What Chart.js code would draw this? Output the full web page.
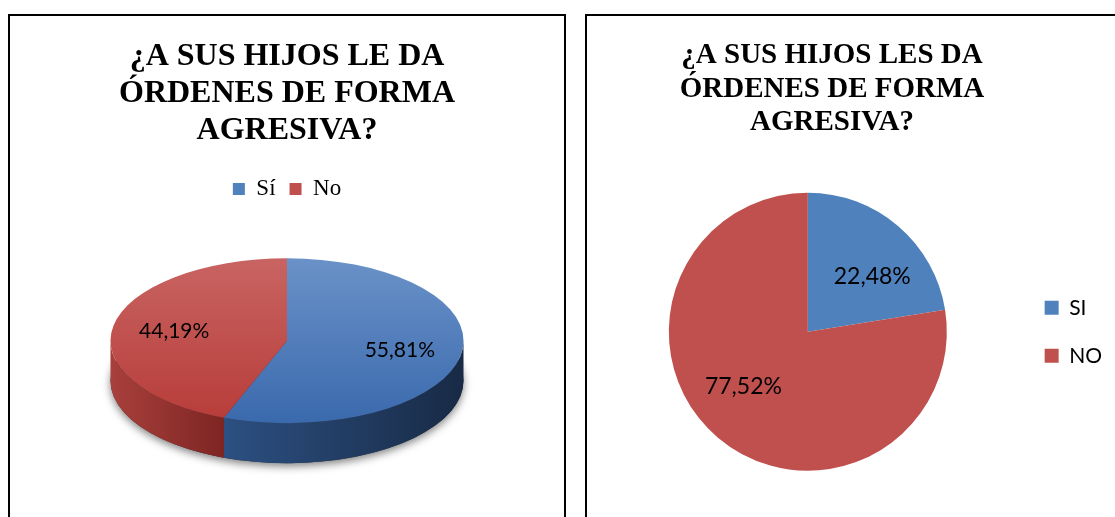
<!DOCTYPE html>
<html>
<head>
<meta charset="utf-8">
<script src="https://cdn.jsdelivr.net/npm/chart.js@4.4.0/dist/chart.umd.min.js"></script>
<style>
  html, body { margin: 0; padding: 0; background: #fff; }
  body { width: 1115px; height: 517px; overflow: hidden; position: relative; }
  .box { position: absolute; top: 14px; height: 520px; border: 2px solid #000; background: #fff; }
  #boxLeft { left: 8px; width: 554px; }
  #boxRight { left: 585px; width: 540px; }
  canvas { position: absolute; left: 0; top: 0; }
</style>
</head>
<body>
<div class="box" id="boxLeft"><canvas id="chartLeft" width="554" height="501"></canvas></div>
<div class="box" id="boxRight"><canvas id="chartRight" width="528" height="501"></canvas></div>
<script>
// left chart
const leftTitle = ['¿A SUS HIJOS LE DA', 'ÓRDENES DE FORMA', 'AGRESIVA?'];
const leftLabels = ['Sí', 'No'];
const leftValues = [55.81, 44.19];

// right chart
const rightTitle = ['¿A SUS HIJOS LES DA', 'ÓRDENES DE FORMA', 'AGRESIVA?'];
const rightLabels = ['SI', 'NO'];
const rightValues = [22.48, 77.52];

const flatColors = ['#4F81BD', '#C0504D'];
const faceColors = [['#6a92c8', '#3a69ad'], ['#c86462', '#b73c39']];
// side walls: lighter on the left end, darker on the right end
const sideColors = [['#2c5082', '#182a45'], ['#a8403c', '#7e2523']];

const R_LEFT = 176.5;
const TILT = 0.467;
const DEPTH = 40;

const pct = v => v.toFixed(2).replace('.', ',') + '%';

// top faces of the tilted pie, shaded top to bottom
function faceFill(c) {
  const area = c.chart.chartArea;
  const i = c.dataIndex || 0;
  if (!area) return faceColors[i][0];
  const cy = (area.top + area.bottom) / 2;
  const g = c.chart.ctx.createLinearGradient(0, cy - R_LEFT, 0, cy + R_LEFT);
  g.addColorStop(0, faceColors[i][0]);
  g.addColorStop(1, faceColors[i][1]);
  return g;
}

const pie3d = {
  id: 'pie3d',
  beforeDatasetsDraw(chart, args, opts) {
    if (!opts.depth) return;
    const ctx = chart.ctx;
    const arcs = chart.getDatasetMeta(0).data;
    const {x, y, outerRadius: r} = arcs[0];
    const k = opts.tilt, d = opts.depth;
    ctx.save();
    // soft shadow under the pie
    ctx.save();
    ctx.shadowColor = 'rgba(0,0,0,0.5)';
    ctx.shadowBlur = 9;
    ctx.shadowOffsetY = 3;
    ctx.fillStyle = '#333';
    ctx.beginPath();
    ctx.ellipse(x, y + d, r, r * k, 0, 0, Math.PI * 2);
    ctx.fill();
    ctx.restore();
    // front walls
    arcs.forEach((arc, i) => {
      const a1 = Math.max(arc.startAngle, 0);
      const a2 = Math.min(arc.endAngle, Math.PI);
      if (a2 <= a1) return;
      const xa = x + Math.cos(a1) * r, xb = x + Math.cos(a2) * r;
      const g = ctx.createLinearGradient(Math.min(xa, xb), 0, Math.max(xa, xb), 0);
      g.addColorStop(0, sideColors[i][0]);
      g.addColorStop(1, sideColors[i][1]);
      ctx.beginPath();
      ctx.ellipse(x, y, r, r * k, 0, a1, a2);
      ctx.ellipse(x, y + d, r, r * k, 0, a2, a1, true);
      ctx.closePath();
      ctx.fillStyle = g;
      ctx.fill();
    });
    // squash the flat pie into the tilted top face
    ctx.translate(x, y);
    ctx.scale(1, k);
    ctx.translate(-x, -y);
  },
  afterDatasetsDraw(chart, args, opts) {
    const ctx = chart.ctx;
    if (opts.depth) ctx.restore();
    const meta = chart.getDatasetMeta(0);
    const values = chart.data.datasets[0].data;
    const k = opts.tilt || 1;
    const turn = opts.labelTurn || 0;
    ctx.save();
    ctx.font = opts.labelFont;
    ctx.fillStyle = '#000';
    ctx.textAlign = 'center';
    ctx.textBaseline = 'middle';
    meta.data.forEach((arc, i) => {
      const mid = (arc.startAngle + arc.endAngle) / 2 + turn;
      const rr = arc.outerRadius * opts.labelPos;
      ctx.fillText(pct(values[i]), arc.x + Math.cos(mid) * rr, arc.y + Math.sin(mid) * rr * k);
    });
    ctx.restore();
  }
};

// empty box on the left edge, only to shift the plot area
const spacerBox = w => ({
  id: 'spacer',
  beforeInit(chart) {
    Chart.layouts.addBox(chart, {
      position: 'left', fullSize: false, weight: 0, options: {},
      left: 0, top: 0, right: 0, bottom: 0, width: 0, height: 0,
      isHorizontal() { return false; },
      getPadding() { return {top: 0, left: 0, bottom: 0, right: 0}; },
      update(maxWidth, maxHeight) { this.width = w; this.height = maxHeight; },
      draw() {}
    });
  }
});

const flatLegend = chart => Chart.overrides.pie.plugins.legend.labels.generateLabels(chart)
  .map((item, i) => Object.assign(item, {fillStyle: flatColors[i], strokeStyle: flatColors[i], lineWidth: 0}));

new Chart(document.getElementById('chartLeft'), {
  type: 'pie',
  data: {
    labels: leftLabels,
    datasets: [{
      data: leftValues,
      backgroundColor: faceFill,
      borderWidth: 0,
      radius: R_LEFT,
      clip: false
    }]
  },
  plugins: [pie3d],
  options: {
    responsive: false,
    animation: false,
    layout: {padding: {top: 0, bottom: 46, left: 0, right: 0}},
    plugins: {
      title: {
        display: true,
        text: leftTitle,
        color: '#000',
        font: {family: 'Liberation Serif', size: 32, weight: 'bold', lineHeight: 1.156},
        padding: {top: 22.5, bottom: 14}
      },
      legend: {
        position: 'top',
        labels: {
          color: '#000',
          font: {family: 'Liberation Serif', size: 23},
          boxWidth: 12,
          boxHeight: 12,
          padding: 14,
          generateLabels: flatLegend
        }
      },
      tooltip: {enabled: false},
      pie3d: {tilt: TILT, depth: DEPTH, labelPos: 0.65, labelFont: '21px Lato'}
    }
  }
});

new Chart(document.getElementById('chartRight'), {
  type: 'pie',
  data: {
    labels: rightLabels,
    datasets: [{
      data: rightValues,
      backgroundColor: flatColors,
      borderWidth: 0,
      radius: 139,
      clip: false
    }]
  },
  plugins: [pie3d, spacerBox(46)],
  options: {
    responsive: false,
    animation: false,
    layout: {padding: {top: 0, bottom: 3, left: -35, right: 3}},
    plugins: {
      title: {
        display: true,
        text: rightTitle,
        color: '#000',
        font: {family: 'Liberation Serif', size: 29, weight: 'bold', lineHeight: 1.155},
        padding: {top: 23, bottom: 10}
      },
      legend: {
        position: 'right',
        fullSize: false,
        labels: {
          color: '#000',
          font: {family: 'Lato', size: 21},
          boxWidth: 14,
          boxHeight: 14,
          padding: 27
        }
      },
      tooltip: {enabled: false},
      pie3d: {tilt: 1, depth: 0, labelPos: 0.61, labelTurn: 0.157, labelFont: '23px Lato'}
    }
  }
});
</script>
</body>
</html>
